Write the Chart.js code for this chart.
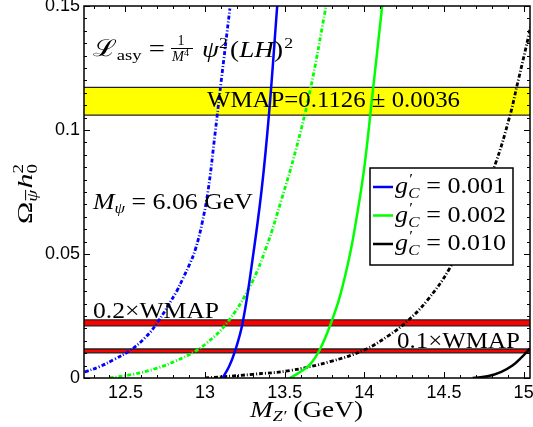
<!DOCTYPE html>
<html>
<head>
<meta charset="utf-8">
<script src="https://cdn.jsdelivr.net/npm/chart.js@4.4.1/dist/chart.umd.min.js"></script>
<style>
body { margin: 0; background: #fff; }
#wrap { width: 533px; height: 427px; }
</style>
</head>
<body>
<div id="wrap"><canvas id="myChart"></canvas></div>
<script>
// axis ticks
var xTicks = [12.5, 13, 13.5, 14, 14.5, 15];
var yTicks = [0, 0.05, 0.1, 0.15];

// legend labels (solid curves)
var couplings = ["0.001", "0.002", "0.010"];

// solid curves
var blueSolidX = [13.11, 13.15, 13.187, 13.235, 13.292, 13.355, 13.402, 13.453];
var blueSolidY = [0, 0.0045, 0.0106, 0.022, 0.045, 0.0758, 0.1069, 0.15];
var greenSolidX = [13.532, 13.6, 13.66, 13.721, 13.784, 13.847, 13.91, 13.955, 14.0, 14.048, 14.112];
var greenSolidY = [0, 0.0025, 0.0055, 0.0115, 0.021, 0.033, 0.05, 0.066, 0.085, 0.1126, 0.15];
var blackSolidX = [14.68, 14.78, 14.86, 14.93, 14.99, 15.04];
var blackSolidY = [0, 0.0008, 0.0025, 0.005, 0.0085, 0.012];

// dash-dot curves
var blueDashX = [12.244, 12.339, 12.43, 12.527, 12.62, 12.697, 12.822, 12.86, 12.904, 12.94, 12.98, 13.02, 13.06, 13.1, 13.156];
var blueDashY = [0.0024, 0.0046, 0.0075, 0.011, 0.016, 0.022, 0.035, 0.04, 0.046, 0.052, 0.062, 0.076, 0.097, 0.119, 0.149];
var greenDashX = [12.4, 12.55, 12.7, 12.82, 12.93, 13.009, 13.135, 13.281, 13.386, 13.48, 13.57, 13.66, 13.76];
var greenDashY = [0, 0.0015, 0.004, 0.007, 0.0105, 0.014, 0.022, 0.0368, 0.053, 0.072, 0.092, 0.116, 0.15];
var blackDashX = [13.0, 13.11, 13.3, 13.532, 13.784, 14.0, 14.15, 14.266, 14.391, 14.538, 14.68, 14.82, 14.915, 14.957, 15.03, 15.07];
var blackDashY = [0, 0.0005, 0.0015, 0.003, 0.0066, 0.0113, 0.017, 0.0227, 0.031, 0.0445, 0.064, 0.0859, 0.106, 0.1175, 0.1376, 0.15];

// horizontal bands [low, high]
var wmapBand = [0.106, 0.1172];
var band02 = [0.021, 0.0234];
var band01 = [0.0101, 0.0117];

var serif = '"Liberation Serif", "DejaVu Serif", serif';
var sans = '"Liberation Sans", Arial, sans-serif';

function pts(xs, ys) {
    return xs.map(function (x, i) { return { x: x, y: ys[i] }; });
}

function fnt(p) {
    return (p.i ? "italic " : "") + p.s + "px " + serif;
}

// draw a run of text pieces, optionally squeezed to a width
function drawPieces(ctx, pieces, x, y, width) {
    ctx.save();
    var total = 0;
    pieces.forEach(function (p) {
        ctx.font = fnt(p);
        p.w = ctx.measureText(p.t).width;
        total += (p.dx || 0) + p.w;
    });
    ctx.translate(x, y);
    if (width) ctx.scale(width / total, 1);
    ctx.fillStyle = "#000";
    ctx.textBaseline = "alphabetic";
    ctx.textAlign = "left";
    var cx = 0;
    pieces.forEach(function (p) {
        cx += p.dx || 0;
        ctx.font = fnt(p);
        ctx.fillText(p.t, cx, p.dy || 0);
        if (p.bar) {
            ctx.fillRect(cx + 1, (p.dy || 0) - p.s * 0.85, p.w - 1, 1);
        }
        cx += p.w;
    });
    ctx.restore();
}

var decor = {
    id: "decor",
    beforeDatasetsDraw: function (chart) {
        var ctx = chart.ctx;
        var a = chart.chartArea;
        var ys = chart.scales.y;
        ctx.save();
        [[wmapBand, "#ffff00"], [band02, "#ff0000"], [band01, "#ff0000"]].forEach(function (b) {
            var top = ys.getPixelForValue(b[0][1]);
            var bot = ys.getPixelForValue(b[0][0]);
            ctx.fillStyle = b[1];
            ctx.fillRect(a.left, top, a.right - a.left, bot - top);
            ctx.strokeStyle = "#222";
            ctx.lineWidth = 1.3;
            ctx.beginPath();
            ctx.moveTo(a.left, top); ctx.lineTo(a.right, top);
            ctx.moveTo(a.left, bot); ctx.lineTo(a.right, bot);
            ctx.stroke();
        });
        ctx.restore();
    },
    afterDraw: function (chart) {
        var ctx = chart.ctx;
        var a = chart.chartArea;
        var xs = chart.scales.x;
        var ys = chart.scales.y;
        ctx.save();

        // frame
        ctx.strokeStyle = "#000";
        ctx.lineWidth = 1.5;
        ctx.strokeRect(a.left, a.top, a.right - a.left, a.bottom - a.top);

        // inward ticks
        ctx.lineWidth = 1;
        ctx.beginPath();
        var v, px, len;
        for (var i = 123; i <= 150; i++) {
            v = i / 10;
            px = Math.round(xs.getPixelForValue(v)) + 0.5;
            len = (i % 5 === 0) ? 6 : 3;
            ctx.moveTo(px, a.bottom); ctx.lineTo(px, a.bottom - len);
            ctx.moveTo(px, a.top); ctx.lineTo(px, a.top + len);
        }
        for (var j = 0; j <= 30; j++) {
            v = j * 0.005;
            px = Math.round(ys.getPixelForValue(v)) + 0.5;
            len = (j % 10 === 0) ? 6 : 3;
            ctx.moveTo(a.left, px); ctx.lineTo(a.left + len, px);
            ctx.moveTo(a.right, px); ctx.lineTo(a.right - len, px);
        }
        ctx.stroke();

        // annotations
        drawPieces(ctx, [
            { t: "\u2112", s: 23 },
            { t: "asy", s: 15, dy: 4 },
            { t: " =", s: 23 }
        ], 93, 56, 72);
        ctx.fillStyle = "#000";
        ctx.font = "14px " + serif;
        ctx.textAlign = "center";
        ctx.fillText("1", 181, 45);
        ctx.fillRect(171, 48, 22, 1);
        drawPieces(ctx, [
            { t: "M", s: 14, i: true },
            { t: "4", s: 10, dy: -5 }
        ], 172, 61, 17);
        drawPieces(ctx, [
            { t: "\u03c8", s: 23, i: true },
            { t: "2", s: 15, dy: -9 },
            { t: "(", s: 23, dx: 2 },
            { t: "LH", s: 23, i: true },
            { t: ")", s: 23 },
            { t: "2", s: 15, dy: -9, dx: 1 }
        ], 202, 57, 91);

        drawPieces(ctx, [{ t: "WMAP=0.1126 \u00b1 0.0036", s: 23 }], 207, 107, 253);

        drawPieces(ctx, [
            { t: "M", s: 23, i: true },
            { t: "\u03c8", s: 15, i: true, dy: 4 },
            { t: " = 6.06 GeV", s: 23 }
        ], 93, 209, 160);

        drawPieces(ctx, [{ t: "0.2\u00d7WMAP", s: 23 }], 93, 318, 126);
        drawPieces(ctx, [{ t: "0.1\u00d7WMAP", s: 23 }], 397, 348, 123);

        // x title
        drawPieces(ctx, [
            { t: "M", s: 23, i: true },
            { t: "Z\u2032", s: 15, i: true, dy: 4 },
            { t: " (GeV)", s: 23 }
        ], 250, 417, 113);

        // y title
        ctx.save();
        ctx.translate(32, 224);
        ctx.rotate(-Math.PI / 2);
        drawPieces(ctx, [
            { t: "\u03a9", s: 22 },
            { t: "\u03c8", s: 14, i: true, dy: 5, bar: true },
            { t: "h", s: 22, i: true, dx: 1 },
            { t: "0", s: 14, dy: 5 },
            { t: "2", s: 14, dy: -9, dx: -7 }
        ], 0, 0, 60);
        ctx.restore();

        // legend
        var lx = 370, ly = 168, lw = 143, lh = 97;
        ctx.fillStyle = "#fff";
        ctx.fillRect(lx, ly, lw, lh);
        ctx.strokeStyle = "#000";
        ctx.lineWidth = 1.5;
        ctx.strokeRect(lx, ly, lw, lh);
        couplings.forEach(function (c, k) {
            var ds = chart.data.datasets[k];
            var rowY = 187 + k * 28.5;
            ctx.strokeStyle = ds.borderColor;
            ctx.lineWidth = 2.5;
            ctx.beginPath();
            ctx.moveTo(373, rowY); ctx.lineTo(393, rowY);
            ctx.stroke();
            drawPieces(ctx, [
                { t: "g", s: 23, i: true },
                { t: "\u2032", s: 15, dy: -9, dx: 1 },
                { t: "C", s: 15, i: true, dy: 5, dx: -4 },
                { t: " = " + c, s: 23 }
            ], 395, rowY + 6, 111);
        });

        ctx.restore();
    }
};

var dashDot = [4, 2, 1, 2];

var ctx = document.getElementById("myChart").getContext("2d");
var myChart = new Chart(ctx, {
    type: "line",
    data: {
        datasets: [
            { label: "g'C = " + couplings[0], data: pts(blueSolidX, blueSolidY), borderColor: "#0000ff", borderWidth: 2.5 },
            { label: "g'C = " + couplings[1], data: pts(greenSolidX, greenSolidY), borderColor: "#00ff00", borderWidth: 2.5 },
            { label: "g'C = " + couplings[2], data: pts(blackSolidX, blackSolidY), borderColor: "#000000", borderWidth: 2.5 },
            { label: "blue dash-dot", data: pts(blueDashX, blueDashY), borderColor: "#0000ff", borderWidth: 2.8, borderDash: dashDot },
            { label: "green dash-dot", data: pts(greenDashX, greenDashY), borderColor: "#00ff00", borderWidth: 2.8, borderDash: dashDot },
            { label: "black dash-dot", data: pts(blackDashX, blackDashY), borderColor: "#000000", borderWidth: 2.8, borderDash: dashDot }
        ]
    },
    options: {
        responsive: true,
        maintainAspectRatio: false,
        animation: false,
        events: [],
        elements: { point: { radius: 0 }, line: { tension: 0.4, fill: false } },
        layout: { padding: { top: 6, right: 3, left: 0, bottom: 0 } },
        plugins: { legend: { display: false }, tooltip: { enabled: false } },
        scales: {
            x: {
                type: "linear",
                min: 12.24,
                max: 15.04,
                afterBuildTicks: function (s) { s.ticks = xTicks.map(function (v) { return { value: v }; }); },
                afterFit: function (s) { s.height = 49; s.paddingLeft = 0; s.paddingRight = 0; },
                grid: { display: false, drawTicks: false },
                border: { display: false },
                ticks: {
                    color: "#000", padding: 4, maxRotation: 0, autoSkip: false,
                    font: { family: sans, size: 18 },
                    callback: function (v) { return String(v); }
                }
            },
            y: {
                type: "linear",
                min: 0,
                max: 0.15,
                afterBuildTicks: function (s) { s.ticks = yTicks.map(function (v) { return { value: v }; }); },
                afterFit: function (s) { s.width = 84; s.paddingTop = 0; s.paddingBottom = 0; },
                grid: { display: false, drawTicks: false },
                border: { display: false },
                ticks: {
                    color: "#000", padding: 4, autoSkip: false,
                    font: { family: sans, size: 18 },
                    callback: function (v) { return String(v); }
                }
            }
        }
    },
    plugins: [decor]
});
</script>
</body>
</html>
